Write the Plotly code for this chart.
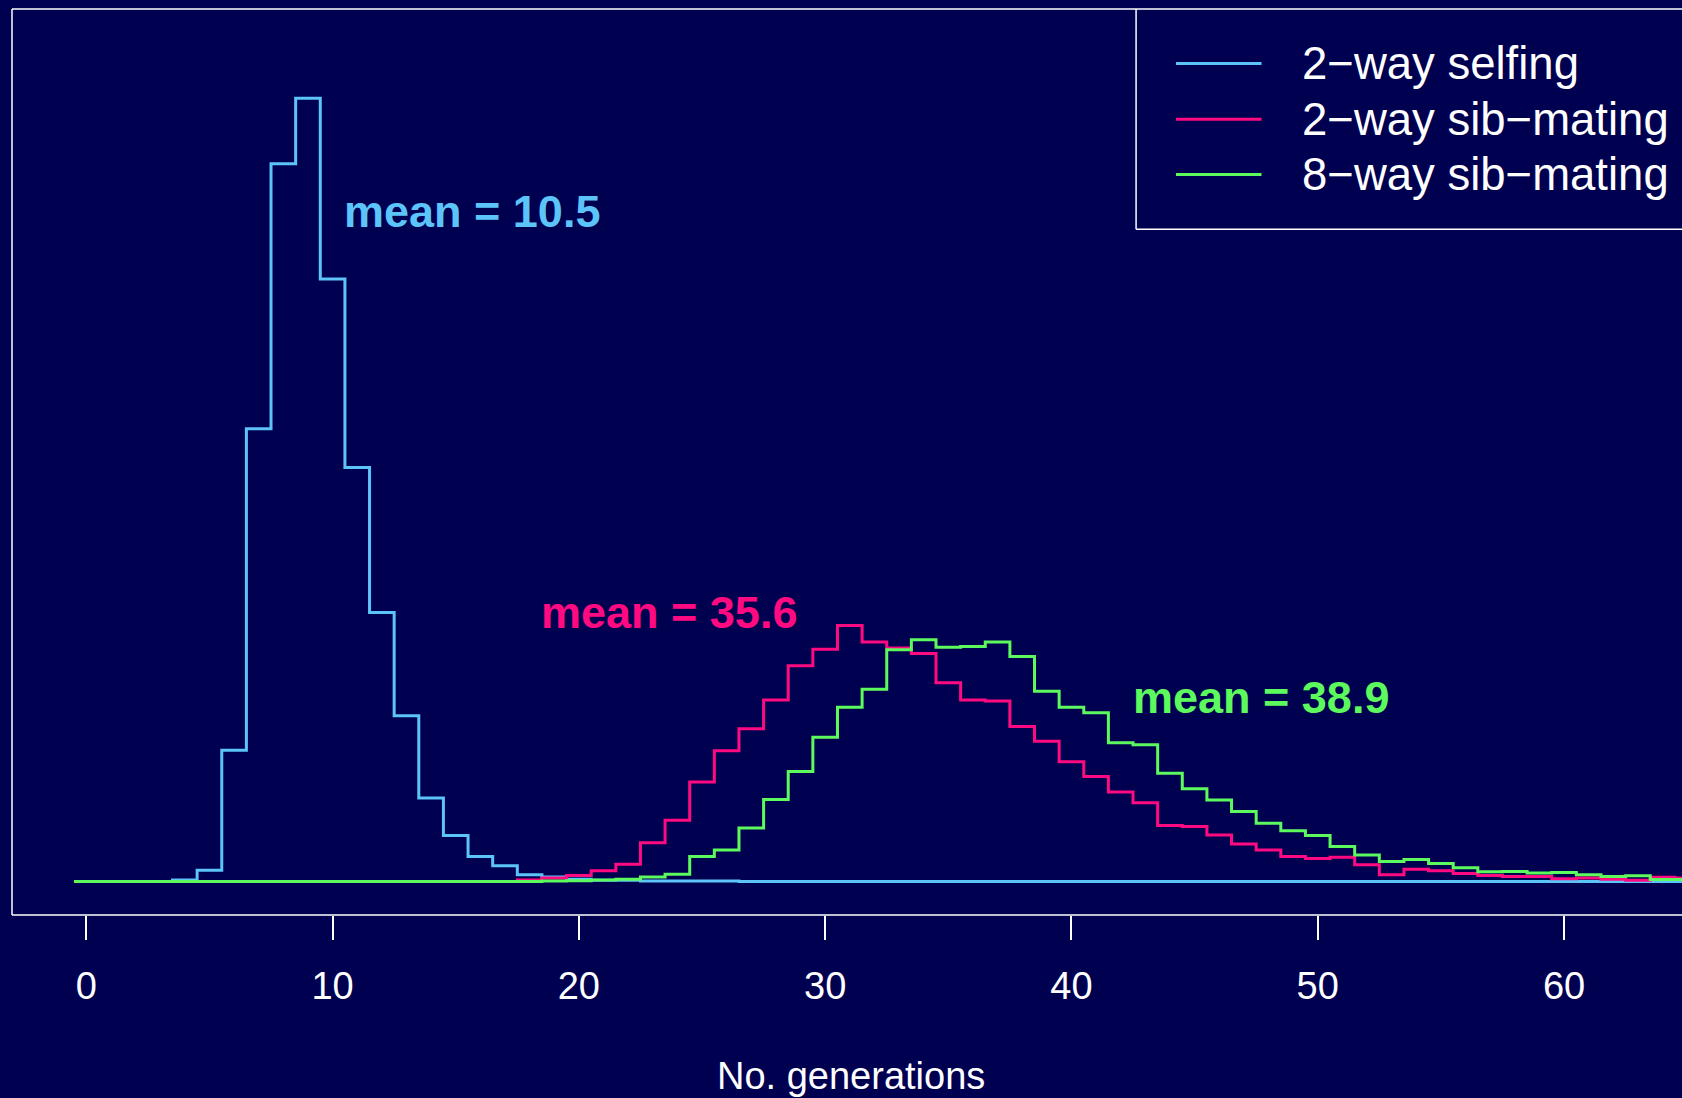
import plotly.graph_objects as go

# bin centres (no. generations) and percentage of lines fixed at each generation
generations = list(range(0, 66))

selfing_2way = [0, 0, 0, 0, 0.04, 0.30, 3.54, 12.22, 19.37, 21.14,
                16.26, 11.17, 7.26, 4.47, 2.25, 1.24, 0.67, 0.42, 0.18, 0.12,
                0.06, 0.03, 0.03, 0.01, 0.01, 0.01, 0.01] + [0] * 39

sib_2way = [0] * 18 + [0.04, 0.09, 0.16, 0.29, 0.46, 1.04, 1.65, 2.68, 3.53, 4.12,
                       4.90, 5.82, 6.27, 6.91, 6.46, 6.30, 6.15, 5.36, 4.90, 4.87,
                       4.18, 3.78, 3.23, 2.83, 2.41, 2.12, 1.51, 1.48, 1.25, 1.01,
                       0.85, 0.67, 0.62, 0.65, 0.45, 0.18, 0.33, 0.29, 0.21, 0.16,
                       0.13, 0.13, 0.07, 0.09, 0.06, 0.03, 0.11, 0.09]

sib_8way = [0] * 19 + [0.01, 0.02, 0.04, 0.06, 0.12, 0.19, 0.67, 0.85, 1.44, 2.21,
                       2.97, 3.89, 4.70, 5.19, 6.25, 6.52, 6.32, 6.34, 6.46, 6.07,
                       5.13, 4.70, 4.55, 3.74, 3.69, 2.92, 2.50, 2.20, 1.89, 1.57,
                       1.37, 1.24, 0.94, 0.71, 0.54, 0.59, 0.48, 0.37, 0.26, 0.27,
                       0.23, 0.24, 0.18, 0.13, 0.15, 0.05, 0.05]

series_names = ["2\u2212way selfing", "2\u2212way sib\u2212mating", "8\u2212way sib\u2212mating"]
series_means = [10.5, 35.6, 38.9]
series_colors = ["#5cc4f8", "#ff0a80", "#5cfa5c"]

bg = "#000050"
font = "Liberation Sans, Arial, Helvetica, sans-serif"

fig = go.Figure()

# histogram outlines as steps from the bin edges
for name, vals, col in zip(series_names, [selfing_2way, sib_2way, sib_8way], series_colors):
    edges = [g - 0.5 for g in generations] + [generations[-1] + 0.5]
    fig.add_trace(go.Scatter(x=edges, y=vals + [vals[-1]], mode="lines",
                             line=dict(color=col, width=3, shape="hv"),
                             name=name, showlegend=False, hoverinfo="skip"))

# mean labels
label_pos = [(10.38, 18.09), (18.37, 7.27), (42.42, 4.96)]
for (lx, ly), m, col in zip(label_pos, series_means, series_colors):
    fig.add_annotation(x=lx, y=ly, text="<b>mean = %.1f</b>" % m, showarrow=False,
                       xanchor="left", yanchor="middle",
                       font=dict(family=font, size=45, color=col))

shapes = []
# plot box (right edge lies outside the picture)
for x0, y0, x1, y1 in [(0, 0, 0, 1), (0, 1, 1.05, 1), (0, 0, 1.05, 0)]:
    shapes.append(dict(type="line", xref="paper", yref="paper", x0=x0, y0=y0, x1=x1, y1=y1,
                       line=dict(color="white", width=1.5)))

# legend box, drawn by hand so the keys can be long like the original
lg_left, lg_bottom = 0.6731, 0.7568
shapes.append(dict(type="line", xref="paper", yref="paper", x0=lg_left, x1=lg_left,
                   y0=lg_bottom, y1=1, line=dict(color="white", width=1.5)))
shapes.append(dict(type="line", xref="paper", yref="paper", x0=lg_left, x1=1.05,
                   y0=lg_bottom, y1=lg_bottom, line=dict(color="white", width=1.5)))
key_y = [0.9398, 0.8784, 0.8172]
for ky, name, col in zip(key_y, series_names, series_colors):
    shapes.append(dict(type="line", xref="paper", yref="paper", x0=0.6970, x1=0.7482,
                       y0=ky, y1=ky, line=dict(color=col, width=3)))
    fig.add_annotation(xref="paper", yref="paper", x=0.7710, y=ky, text=name,
                       showarrow=False, xanchor="left", yanchor="middle",
                       font=dict(family=font, size=45.5, color="white"))

# x axis title
fig.add_annotation(xref="paper", yref="paper", x=0.5024, y=-0.178, text="No. generations",
                   showarrow=False, xanchor="center", yanchor="middle",
                   font=dict(family=font, size=38, color="white"))

fig.update_layout(
    width=1682, height=1098,
    margin=dict(l=12, r=0, t=9, b=183),
    paper_bgcolor=bg, plot_bgcolor=bg,
    shapes=shapes,
    showlegend=False,
    xaxis=dict(range=[-3.017, 64.79], showgrid=False, zeroline=False, showline=False,
               ticks="outside", ticklen=24, tickwidth=1.5, tickcolor="white",
               tickvals=[0, 10, 20, 30, 40, 50, 60], ticklabelstandoff=13,
               tickfont=dict(family=font, size=38, color="white")),
    yaxis=dict(range=[-0.907, 23.55], visible=False),
)

fig.write_html("out.html", config={"displayModeBar": False},
               post_script="document.body.style.margin='0px';document.body.style.overflow='hidden';")
